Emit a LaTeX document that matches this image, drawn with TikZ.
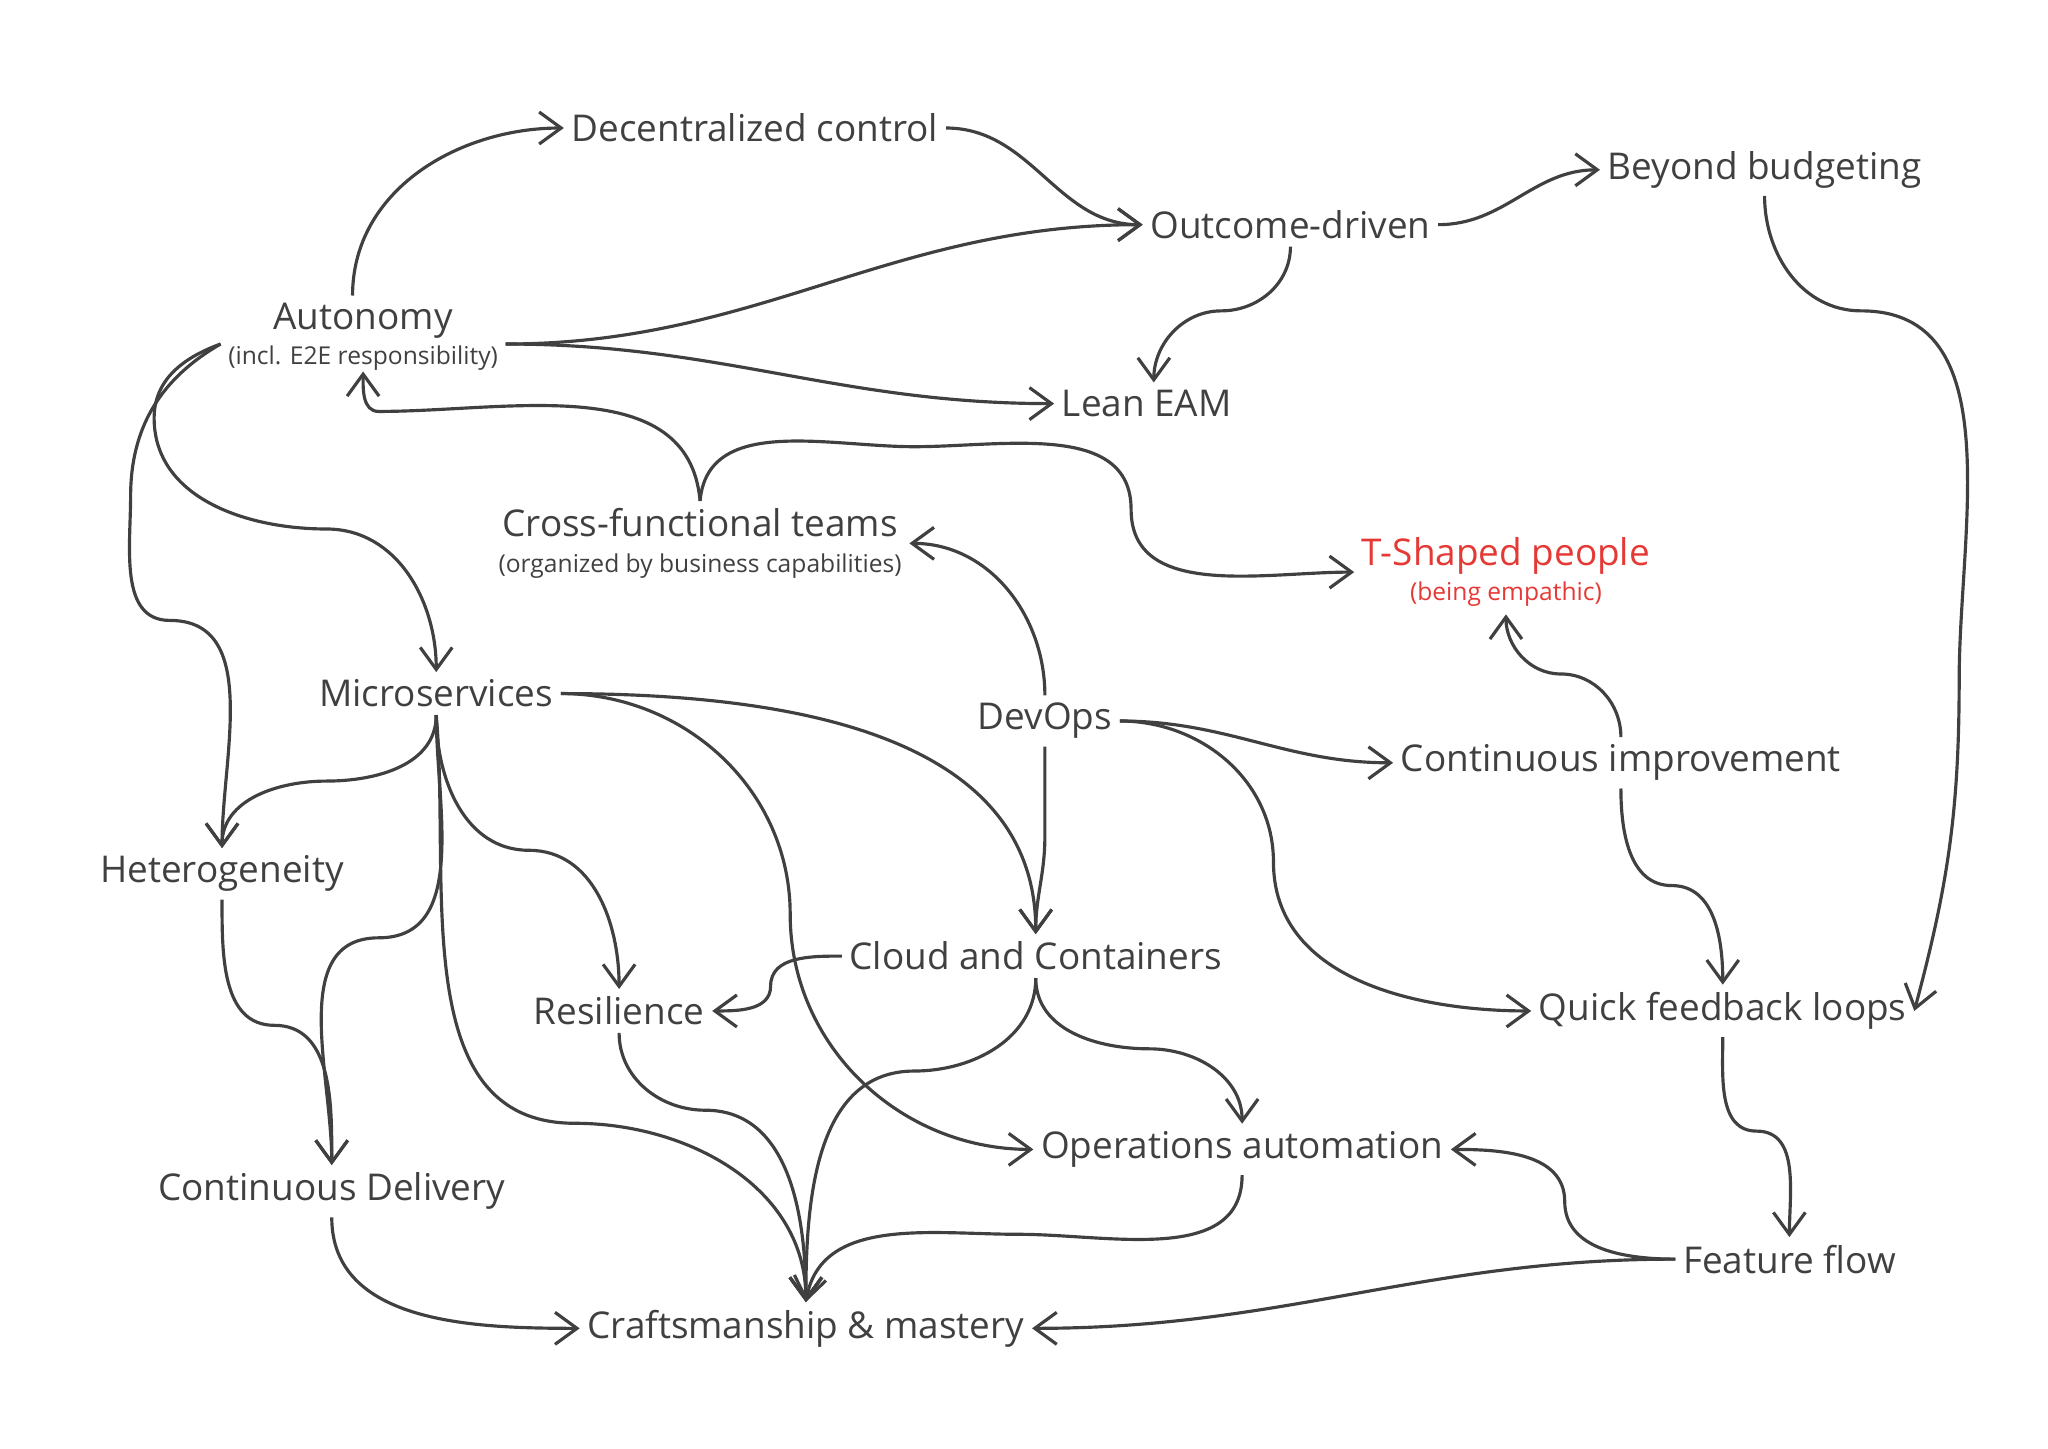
\documentclass[tikz,border=0pt]{standalone}
\usepackage{fontspec}
\setmainfont{Open Sans}
\usetikzlibrary{arrows.meta}
\definecolor{inkgray}{HTML}{404040}
\definecolor{tred}{HTML}{E53935}
\newcommand{\subtext}[1]{{\fontsize{7}{8}\selectfont #1}}
\begin{document}
\begin{tikzpicture}
	[x=0.013061cm, y=-0.013061cm,
	 concept/.style={font=\fontsize{10.5}{12}\selectfont, text=inkgray, inner sep=2pt, align=center},
	 link/.style={draw=inkgray, line width=0.9pt, -{Straight Barb[length=2.2mm,width=3.2mm]}}]
	\useasboundingbox (0,0) rectangle (1568,1109);
	\node[concept] (dec) at (578,98) {Decentralized control};
	\node[concept] (out) at (988,172) {Outcome-driven};
	\node[concept] (beyond) at (1351,130) {Beyond budgeting};
	\node[concept] (auto) at (278,258) {Autonomy\\[-2pt]\subtext{(incl. E2E responsibility)}};
	\node[concept] (lean) at (878,309) {Lean EAM};
	\node[concept] (cross) at (536,416) {Cross-functional teams\\[-2pt]\subtext{(organized by business capabilities)}};
	\node[concept, text=tred] (tshape) at (1153,438) {T-Shaped people\\[-2pt]\subtext{(being empathic)}};
	\node[concept] (micro) at (334,531) {Microservices};
	\node[concept] (devops) at (800,552) {DevOps};
	\node[concept] (ci) at (1241,584) {Continuous improvement};
	\node[concept] (het) at (170,669) {Heterogeneity};
	\node[concept] (cloud) at (793,732) {Cloud and Containers};
	\node[concept] (res) at (474,774) {Resilience};
	\node[concept] (quick) at (1319,774) {Quick feedback loops};
	\node[concept] (cd) at (254,912) {Continuous Delivery};
	\node[concept] (ops) at (951,880) {Operations automation};
	\node[concept] (ff) at (1370,964) {Feature flow};
	\node[concept] (craft) at (617,1017) {Craftsmanship \& mastery};

	% autonomy cluster
	\draw[link] ([xshift=-3pt]auto.north) to[out=90,in=180] (dec.west);
	\draw[link] (dec.east) to[out=0,in=180] (out.west);
	\draw[link] ([yshift=-2pt]auto.east) to[out=0,in=180] (out.west);
	\draw[link] ([yshift=-2pt]auto.east) to[out=0,in=180] (lean.west);
	\draw[link] (out.south) to[out=270,in=0] (935,238) to[out=180,in=90] ([xshift=2pt]lean.north);
	\draw[link] (out.east) to[out=0,in=180] (beyond.west);
	\draw[link] (beyond.south) to[out=270,in=180] (1425,238) to[out=0,in=90] (1500,520) to[out=270,in=75] (quick.east);
	\draw[link] (cross.north) to[out=95,in=0] (290,315) to[out=180,in=270] ([yshift=2pt]auto.south);
	\draw[link] (cross.north) to[out=85,in=180] (700,342) to[out=0,in=90] (866,390) to[out=270,in=180] (tshape.west);
	\draw[link] ([yshift=-2pt]auto.west) to[out=200,in=90] (118,320) to[out=270,in=180] (250,405) to[out=0,in=90] (micro.north);
	\draw[link] ([yshift=-2pt]auto.west) to[out=210,in=90] (100,380) to[out=270,in=180] (130,475) to[out=0,in=90] (het.north);

	% devops cluster
	\draw[link] (devops.north) to[out=90,in=0] (cross.east);
	\draw[link] (devops.south) to[out=270,in=90] (800,640) to[out=270,in=90] (cloud.north);
	\draw[link] (devops.east) to[out=0,in=180] (ci.west);
	\draw[link] (devops.east) to[out=0,in=90] (975,660) to[out=270,in=180] (quick.west);
	\draw[link] (ci.north) to[out=90,in=0] (1195,516) to[out=180,in=270] (tshape.south);
	\draw[link] (ci.south) to[out=270,in=180] (1280,678) to[out=0,in=90] (quick.north);
	\draw[link] (quick.south) to[out=270,in=180] (1345,866) to[out=0,in=90] (ff.north);

	% microservices cluster
	\draw[link] (micro.east) to[out=0,in=90] (cloud.north);
	\draw[link] (micro.east) to[out=0,in=90] (605,700) to[out=270,in=180] (ops.west);
	\draw[link] (micro.south) to[out=270,in=0] (250,598) to[out=180,in=90] (het.north);
	\draw[link] (micro.south) to[out=270,in=0] (290,718) to[out=180,in=90] (cd.north);
	\draw[link] (micro.south) to[out=270,in=180] (405,651) to[out=0,in=90] (res.north);
	\draw[link] (micro.south) to[out=275,in=180] (440,860) to[out=0,in=90] (craft.north);
	\draw[link] (het.south) to[out=270,in=180] (210,785) to[out=0,in=90] (cd.north);
	\draw[link] (cloud.west) to[out=180,in=90] (590,755) to[out=270,in=0] (res.east);
	\draw[link] (cloud.south) to[out=270,in=0] (700,820) to[out=180,in=90] (craft.north);
	\draw[link] (cloud.south) to[out=270,in=180] (880,803) to[out=0,in=90] (ops.north);
	\draw[link] (res.south) to[out=270,in=180] (540,850) to[out=0,in=90] (craft.north);
	\draw[link] (ops.south) to[out=270,in=0] (780,945) to[out=180,in=80] (craft.north);
	\draw[link] (ff.west) to[out=180,in=270] (1198,920) to[out=90,in=0] (ops.east);
	\draw[link] (ff.west) to[out=180,in=0] (craft.east);
	\draw[link] (cd.south) to[out=270,in=180] (craft.west);
\end{tikzpicture}
\end{document}
